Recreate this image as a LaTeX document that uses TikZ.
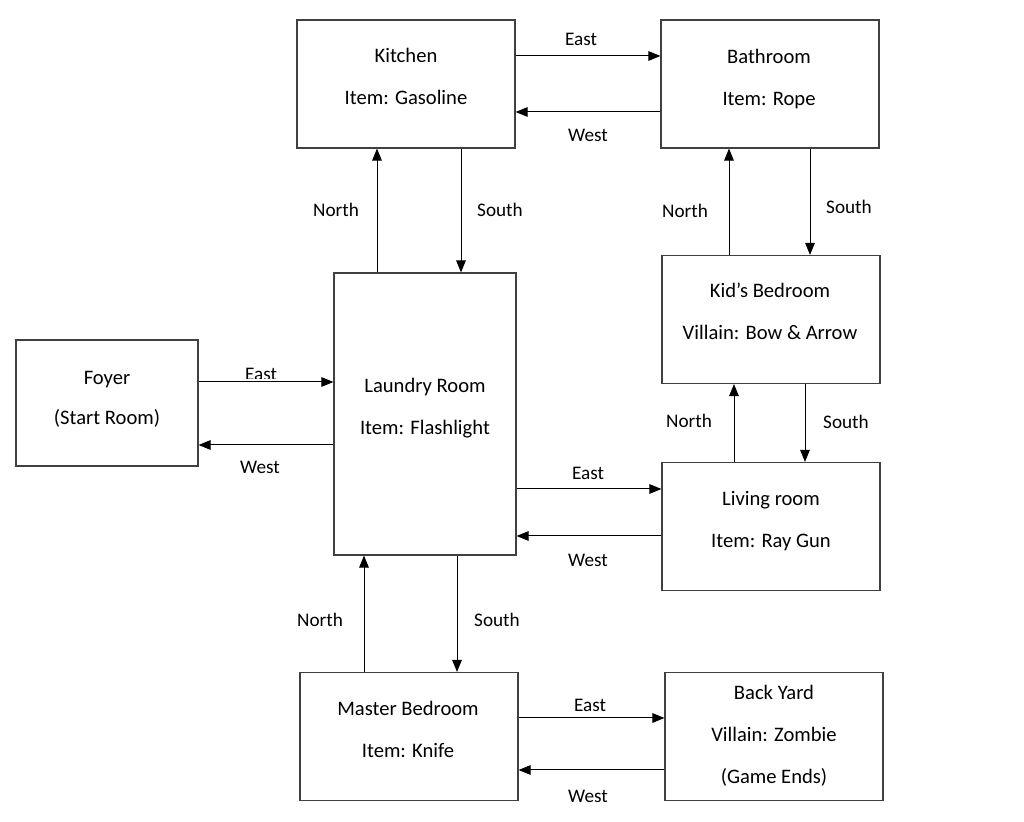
\documentclass[tikz,border=0pt]{standalone}
\usepackage{fontspec}
\setmainfont{Carlito}
\usetikzlibrary{arrows.meta}
\begin{document}
\begin{tikzpicture}[x=0.5pt,y=-0.5pt,
  room/.style={draw=black!75, line width=0.6pt, minimum width=109pt, minimum height=64pt, inner sep=0pt},
  txt/.style={inner sep=0pt, anchor=base, font=\fontsize{10.3}{12}\selectfont},
  lbl/.style={inner sep=0pt, anchor=base, font=\fontsize{9.6}{11}\selectfont},
  arr/.style={line width=0.5pt, -{Triangle[length=6pt,width=4.8pt]}}]
\clip (0,0) rectangle (1024,822);
\fill[white] (0,0) rectangle (1024,822);
% rooms
\node[room] (kitchen) at (406,84) {};
\node[room] (bath) at (770,84) {};
\node[room] (kids) at (771,319.5) {};
\node[room, minimum width=91pt, minimum height=63pt] (foyer) at (107,403) {};
\node[room, minimum width=91pt, minimum height=141pt] (laundry) at (425,414) {};
\node[room] (living) at (771,526.5) {};
\node[room] (master) at (409,736.5) {};
\node[room] (back) at (774,736.5) {};
% room texts
\node[txt] (kitchen-a) at (406,63) {Kitchen};
\node[txt] (kitchen-b) at (406,105) {Item: Gasoline};
\node[txt] (bath-a) at (769,64) {Bathroom};
\node[txt] (bath-b) at (769,106) {Item: Rope};
\node[txt] (kids-a) at (770,298) {Kid’s Bedroom};
\node[txt] (kids-b) at (770,340) {Villain: Bow \& Arrow};
\node[txt] (foyer-a) at (107,385) {Foyer};
\node[txt] (foyer-b) at (107,425) {(Start Room)};
\node[txt] (laundry-a) at (425,393) {Laundry Room};
\node[txt] (laundry-b) at (425,435) {Item: Flashlight};
\node[txt] (living-a) at (771,506) {Living room};
\node[txt] (living-b) at (771,548) {Item: Ray Gun};
\node[txt] (master-a) at (408,716) {Master Bedroom};
\node[txt] (master-b) at (408,758) {Item: Knife};
\node[txt] (back-a) at (774,700) {Back Yard};
\node[txt] (back-b) at (774,742) {Villain: Zombie};
\node[txt] (back-c) at (774,784) {(Game Ends)};
% labels
\node[lbl] (l1) at (581,46) {East};
\node[lbl] (l2) at (588,142) {West};
\node[lbl] (l3) at (336,217) {North};
\node[lbl] (l4) at (500,217) {South};
\node[lbl] (l5) at (685,218) {North};
\node[lbl] (l6) at (849,214) {South};
\begin{scope}
\clip (0,0) rectangle (1024,379);
\node[lbl] (l7) at (261,381) {East};
\end{scope}
\node[lbl] (l8) at (260,474) {West};
\node[lbl] (l9) at (588,480) {East};
\node[lbl] (l10) at (588,567) {West};
\node[lbl] (l11) at (689,428) {North};
\node[lbl] (l12) at (846,429) {South};
\node[lbl] (l13) at (320,627) {North};
\node[lbl] (l14) at (497,627) {South};
\node[lbl] (l15) at (590,712) {East};
\begin{scope}
\clip (0,0) rectangle (1024,802);
\node[lbl] (l16) at (588,802.5) {West};
\end{scope}
% connectors
\draw[arr] (kitchen.east |- 0,56) -- (bath.west |- 0,56);
\draw[arr] (bath.west |- 0,112) -- (kitchen.east |- 0,112);
\draw[arr] (laundry.north -| 377,0) -- (kitchen.south -| 377,0);
\draw[arr] (kitchen.south -| 461,0) -- (laundry.north -| 461,0);
\draw[arr] (kids.north -| 729,0) -- (bath.south -| 729,0);
\draw[arr] (bath.south -| 810,0) -- (kids.north -| 810,0);
\draw[arr] (foyer.east |- 0,382) -- (laundry.west |- 0,382);
\draw[arr] (laundry.west |- 0,445) -- (foyer.east |- 0,445);
\draw[arr] (laundry.east |- 0,489) -- (living.west |- 0,489);
\draw[arr] (living.west |- 0,536) -- (laundry.east |- 0,536);
\draw[arr] (living.north -| 734,0) -- (kids.south -| 734,0);
\draw[arr] (kids.south -| 805,0) -- (living.north -| 805,0);
\draw[arr] (master.north -| 364,0) -- (laundry.south -| 364,0);
\draw[arr] (laundry.south -| 457,0) -- (master.north -| 457,0);
\draw[arr] (master.east |- 0,718) -- (back.west |- 0,718);
\draw[arr] (back.west |- 0,770) -- (master.east |- 0,770);
\end{tikzpicture}
\end{document}
